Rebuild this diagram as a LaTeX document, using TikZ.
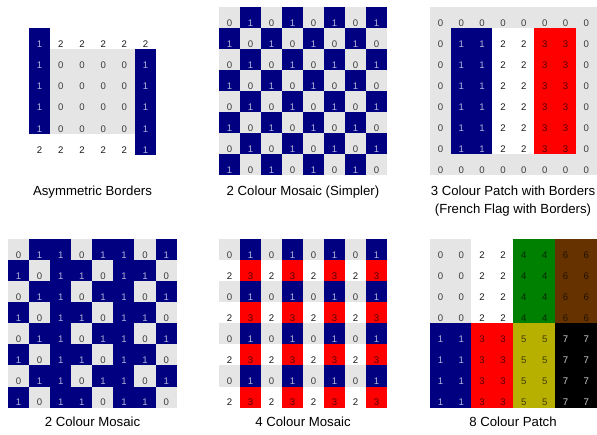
\documentclass[tikz,border=0pt]{standalone}
\usepackage{fontspec}
\setmainfont{Liberation Sans}
\usepackage{xcolor}
\definecolor{tile0}{RGB}{229,229,229}
\definecolor{tile1}{RGB}{0,0,128}
\definecolor{tile3}{RGB}{255,0,0}
\definecolor{tile4}{RGB}{0,128,0}
\definecolor{tile5}{RGB}{184,176,0}
\definecolor{tile6}{RGB}{102,51,0}
\definecolor{ink0}{RGB}{60,60,60}
\definecolor{ink1}{RGB}{180,180,220}
\definecolor{ink2}{RGB}{25,25,25}
\definecolor{ink3}{RGB}{85,0,0}
\definecolor{ink4}{RGB}{0,40,0}
\definecolor{ink5}{RGB}{64,60,0}
\definecolor{ink6}{RGB}{36,18,0}
\definecolor{ink7}{RGB}{210,210,210}

\begin{document}
\begin{tikzpicture}[x=1pt, y=-1pt,
  cell/.style={minimum size=21.4pt, inner sep=0pt, text height=17.2pt, text depth=0pt, font=\fontsize{9.6}{10}\selectfont},
  val0/.style={fill=tile0, text=ink0},
  val1/.style={fill=tile1, text=ink1},
  val2/.style={fill=white, text=ink2},
  val3/.style={fill=tile3, text=ink3},
  val4/.style={fill=tile4, text=ink4},
  val5/.style={fill=tile5, text=ink5},
  val6/.style={fill=tile6, text=ink6},
  val7/.style={fill=black, text=ink7},
  caption/.style={font=\fontsize{13.2}{15}\selectfont, anchor=base, inner sep=0pt},
]
\useasboundingbox (0,0) rectangle (597,434);

% top row
\foreach \row [count=\r from 0] in {{1,2,2,2,2,2},{1,0,0,0,0,1},{1,0,0,0,0,1},{1,0,0,0,0,1},{1,0,0,0,0,1},{2,2,2,2,2,1}} {
  \foreach \v [count=\c from 0] in \row {
    \node[cell, val\v] (asym-\r-\c) at ({29+(\c+0.5)*21.2}, {28+(\r+0.5)*21.2}) {\v};
  }
}
\node[caption] (cap-asym) at (92.5,195) {Asymmetric Borders};

\foreach \r in {0,...,7} {
  \foreach \c in {0,...,7} {
    \pgfmathtruncatemacro{\v}{mod(\r+\c,2)}
    \node[cell, val\v] (simple-\r-\c) at ({219+(\c+0.5)*21}, {7+(\r+0.5)*21}) {\v};
  }
}
\node[caption] (cap-simple) at (303,195) {2 Colour Mosaic (Simpler)};

\foreach \r in {0,...,7} {
  \foreach \c in {0,...,7} {
    \pgfmathtruncatemacro{\v}{(\r==0 || \r==7 || \c==0 || \c==7) ? 0 : int((\c+1)/2)}
    \node[cell, val\v] (flag-\r-\c) at ({430+(\c+0.5)*20.85}, {7+(\r+0.5)*21}) {\v};
  }
}
\node[caption] (cap-flag) at (513,195) {3 Colour Patch with Borders};
\node[caption] (cap-flag2) at (513,213.5) {(French Flag with Borders)};

% bottom row
\foreach \r in {0,...,7} {
  \foreach \c in {0,...,7} {
    \pgfmathtruncatemacro{\v}{(mod(\c,3)==mod(\r,2)) ? 0 : 1}
    \node[cell, val\v] (twoc-\r-\c) at ({8+(\c+0.5)*21.1}, {239+(\r+0.5)*21.1}) {\v};
  }
}
\node[caption] (cap-twoc) at (92.5,426.5) {2 Colour Mosaic};

\foreach \r in {0,...,7} {
  \foreach \c in {0,...,7} {
    \pgfmathtruncatemacro{\v}{2*mod(\r,2)+mod(\c,2)}
    \node[cell, val\v] (fourc-\r-\c) at ({219+(\c+0.5)*21}, {239+(\r+0.5)*21.1}) {\v};
  }
}
\node[caption] (cap-fourc) at (303,426.5) {4 Colour Mosaic};

\foreach \r in {0,...,7} {
  \foreach \c in {0,...,7} {
    \pgfmathtruncatemacro{\v}{2*int(\c/2)+(\r>3 ? 1 : 0)}
    \node[cell, val\v] (eight-\r-\c) at ({430+(\c+0.5)*20.85}, {239+(\r+0.5)*21.1}) {\v};
  }
}
\node[caption] (cap-eight) at (513,426.5) {8 Colour Patch};
\end{tikzpicture}
\end{document}
